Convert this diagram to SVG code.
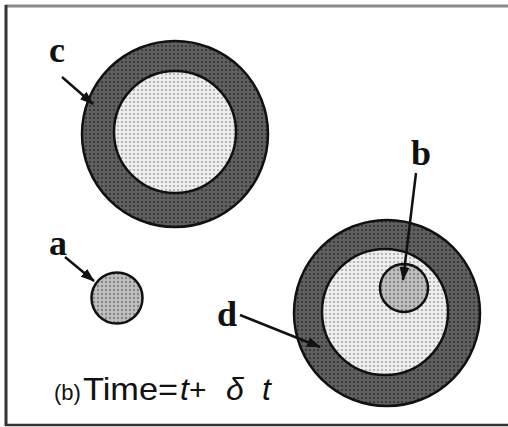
<svg xmlns="http://www.w3.org/2000/svg" width="508" height="427" viewBox="0 0 508 427">
<style>
.lbl{font-family:"Liberation Serif","Times New Roman",serif;font-weight:bold;font-size:36px;fill:#111}
.ring{fill:url(#pRing);stroke:#111;stroke-width:2.5}
.inner{fill:url(#pInner);stroke:#111;stroke-width:2.5}
.small{fill:url(#pSmall);stroke:#111;stroke-width:2.5}
.arr{stroke:#111;stroke-width:2.5;fill:none;marker-end:url(#ah)}
.cap{font-family:"Liberation Sans",Arial,sans-serif;fill:#111}
</style>
<defs>
<pattern id="pRing" width="4" height="4" patternUnits="userSpaceOnUse">
<rect width="4" height="4" fill="#606060"/>
<circle cx="2" cy="2" r="1.1" fill="#333"/>
</pattern>
<pattern id="pInner" width="4" height="4" patternUnits="userSpaceOnUse">
<rect width="4" height="4" fill="#eeeeee"/>
<circle cx="2" cy="2" r="1.1" fill="#a8a8a8"/>
</pattern>
<pattern id="pSmall" width="4" height="4" patternUnits="userSpaceOnUse">
<rect width="4" height="4" fill="#c0c0c0"/>
<circle cx="2" cy="2" r="1.2" fill="#858585"/>
</pattern>
<marker id="ah" markerWidth="14" markerHeight="10" refX="13" refY="5" orient="auto" markerUnits="userSpaceOnUse">
<path d="M0,0 L14,5 L0,10 Z" fill="#111"/>
</marker>
</defs>
<rect x="0" y="0" width="508" height="427" fill="#ffffff"/>
<g id="frame">
<line x1="5" y1="6" x2="508" y2="6" stroke="#8a8a8a" stroke-width="3"/>
<line x1="6" y1="5" x2="6" y2="426" stroke="#333" stroke-width="3"/>
<line x1="5" y1="425" x2="508" y2="425" stroke="#333" stroke-width="2.5"/>
</g>
<g id="node-c">
<circle class="ring" cx="175" cy="134" r="93"/>
<circle class="inner" cx="175" cy="132" r="61"/>
</g>
<g id="node-a">
<circle class="small" cx="117" cy="298" r="25.5"/>
</g>
<g id="node-d">
<circle class="ring" cx="387" cy="313" r="93"/>
<circle class="inner" cx="385" cy="312" r="63"/>
</g>
<g id="node-b">
<circle class="small" cx="404" cy="288" r="24"/>
</g>
<g id="labels">
<text class="lbl" x="49" y="62">c</text>
<text class="lbl" x="49" y="255">a</text>
<text class="lbl" x="411" y="165">b</text>
<text class="lbl" x="217" y="326">d</text>
</g>
<g id="connectors">
<line class="arr" x1="62" y1="77" x2="93" y2="104"/>
<line class="arr" x1="65" y1="257" x2="94" y2="281"/>
<line class="arr" x1="416" y1="173" x2="403" y2="280"/>
<line class="arr" x1="240" y1="315" x2="320" y2="347"/>
</g>
<g id="caption">
<text class="cap" x="54" y="400" font-size="22">(b)</text>
<text class="cap" x="83" y="400" font-size="32" textLength="95" lengthAdjust="spacingAndGlyphs">Time=</text>
<text class="cap" x="180" y="400" font-size="32" font-style="italic">t</text>
<text class="cap" x="189" y="400" font-size="30">+</text>
<text class="cap" x="226" y="400" font-size="32" font-style="italic">δ</text>
<text class="cap" x="262" y="400" font-size="32" font-style="italic">t</text>
</g>
</svg>
